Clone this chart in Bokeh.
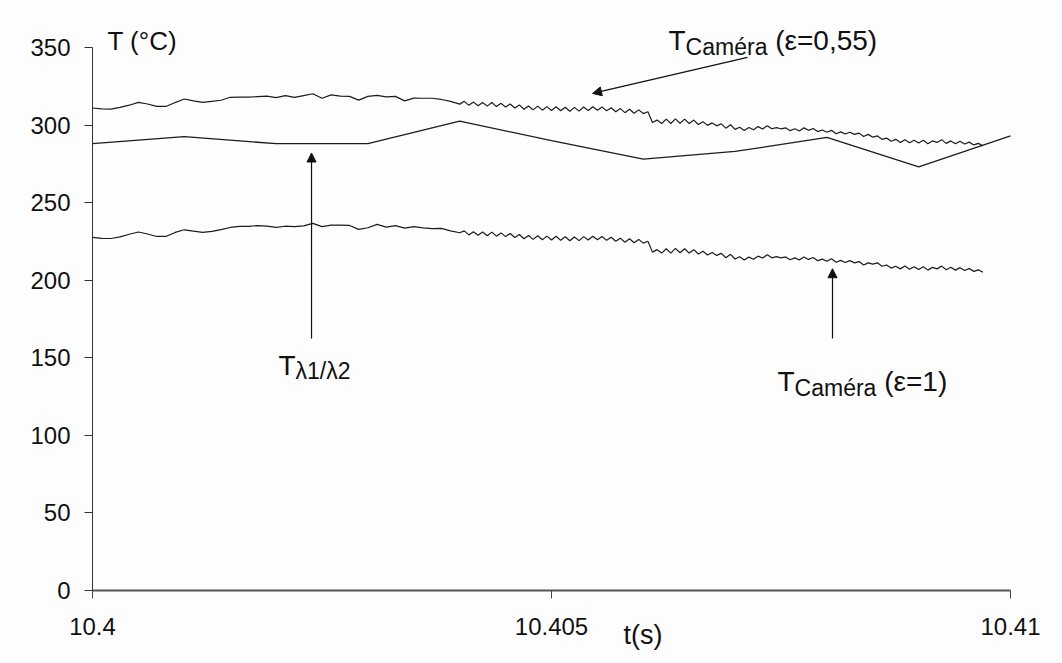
from bokeh.plotting import figure
from bokeh.models import (Range1d, FixedTicker, CustomJSTickFormatter, Label, Arrow,
                          NormalHead, LinearAxis)
from bokeh.embed import file_html
from bokeh.resources import INLINE

# ---------------- data ----------------
# time samples of the camera (s)
t_cam = [
    10.4000, 10.4001, 10.4002, 10.4003, 10.4004, 10.4005, 10.4006, 10.4007, 10.4008, 10.4009,
    10.4010, 10.4011, 10.4012, 10.4013, 10.4014, 10.4015, 10.4016, 10.4017, 10.4018, 10.4019,
    10.4020, 10.4021, 10.4022, 10.4023, 10.4024, 10.4025, 10.4026, 10.4027, 10.4028, 10.4029,
    10.4030, 10.4031, 10.4032, 10.4033, 10.4034, 10.4035, 10.4036, 10.4037, 10.4038, 10.4039,
    10.4040,
    10.40405, 10.4041, 10.40415, 10.4042, 10.40425, 10.4043, 10.40435, 10.4044, 10.40445, 10.4045,
    10.40455, 10.4046, 10.40465, 10.4047, 10.40475, 10.4048, 10.40485, 10.4049, 10.40495, 10.4050,
    10.40505, 10.4051, 10.40515, 10.4052, 10.40525, 10.4053, 10.40535, 10.4054, 10.40545, 10.4055,
    10.40555, 10.4056, 10.40565, 10.4057, 10.40575, 10.4058, 10.40585, 10.4059, 10.40595, 10.4060,
    10.40605, 10.4061, 10.40615, 10.4062, 10.40625, 10.4063, 10.40635, 10.4064, 10.40645, 10.4065,
    10.40655, 10.4066, 10.40665, 10.4067, 10.40675, 10.4068, 10.40685, 10.4069, 10.40695, 10.4070,
    10.40705, 10.4071, 10.40715, 10.4072, 10.40725, 10.4073, 10.40735, 10.4074, 10.40745, 10.4075,
    10.40755, 10.4076, 10.40765, 10.4077, 10.40775, 10.4078, 10.40785, 10.4079, 10.40795, 10.4080,
    10.40805, 10.4081, 10.40815, 10.4082, 10.40825, 10.4083, 10.40835, 10.4084, 10.40845, 10.4085,
    10.40855, 10.4086, 10.40865, 10.4087, 10.40875, 10.4088, 10.40885, 10.4089, 10.40895, 10.4090,
    10.40905, 10.4091, 10.40915, 10.4092, 10.40925, 10.4093, 10.40935, 10.4094, 10.40945, 10.4095,
    10.40955, 10.4096, 10.40965, 10.4097,
]

# T camera, emissivity 0.55 (°C)
T_cam_055 = [
    311.0, 310.4, 310.3, 311.4, 312.8, 314.6, 313.6, 312.0, 312.0, 314.5,
    316.8, 315.6, 314.6, 315.3, 316.0, 317.9, 318.0, 318.0, 318.3, 318.6,
    317.7, 319.0, 317.8, 319.0, 320.2, 317.3, 319.5, 318.7, 318.5, 316.1,
    318.5, 319.1, 318.2, 318.5, 315.6, 317.4, 317.3, 317.3, 316.5, 315.3,
    313.5,
    315.3, 312.7, 314.8, 312.5, 314.6, 312.2, 314.5, 311.9, 314.0, 311.6,
    313.6, 311.0, 313.0, 310.2, 312.3, 309.8, 312.2, 309.6, 311.9, 309.4,
    311.8, 309.2, 311.5, 308.9, 311.4, 309.0, 311.6, 309.4, 311.8, 309.6,
    311.7, 309.2, 311.2, 308.6, 310.6, 308.0, 310.2, 307.6, 309.8, 307.4,
    308.6, 301.6, 303.2, 301.0, 303.8, 301.0, 304.0, 301.2, 303.8, 301.0,
    303.2, 300.4, 302.2, 299.8, 301.4, 299.5, 300.8, 298.0, 300.2, 297.2,
    298.6, 296.5, 298.4, 297.0, 299.0, 297.5, 299.6, 297.6, 298.4, 297.6,
    298.2, 296.4, 297.6, 296.2, 298.2, 296.6, 297.8, 295.8, 296.8, 295.4,
    296.6, 294.4, 295.6, 294.2, 295.4, 294.0, 294.8, 292.6, 294.0, 292.2,
    293.0, 290.8, 291.6, 289.6, 290.8, 288.8, 290.6, 288.6, 290.2, 288.4,
    290.2, 288.0, 289.8, 288.8, 290.6, 288.2, 289.8, 288.0, 289.6, 287.8,
    289.0, 287.2, 288.2, 286.6,
]

# T camera, emissivity 1 (°C)
T_cam_1 = [
    227.6, 227.0, 226.9, 227.9, 229.6, 231.1, 229.8, 228.2, 228.2, 230.8,
    232.5, 231.6, 230.8, 231.5, 232.6, 234.0, 234.7, 234.7, 235.2, 234.9,
    234.1, 234.8, 234.5, 235.0, 236.6, 234.5, 235.5, 235.5, 235.3, 232.8,
    233.8, 236.0, 234.2, 235.2, 233.6, 234.5, 233.7, 233.2, 233.4, 231.8,
    230.6,
    231.8, 229.2, 231.3, 229.0, 231.1, 228.7, 231.0, 228.4, 230.5, 228.1,
    230.1, 227.5, 229.5, 226.7, 228.8, 226.3, 228.7, 226.1, 228.4, 225.9,
    228.3, 225.7, 228.0, 225.4, 227.9, 225.5, 228.1, 225.9, 228.3, 226.1,
    228.2, 225.7, 227.7, 225.1, 227.1, 224.5, 226.7, 224.1, 226.3, 223.9,
    225.1, 218.1, 219.7, 217.5, 220.3, 217.5, 220.5, 217.7, 220.3, 217.5,
    219.7, 216.9, 218.7, 216.3, 217.9, 216.0, 217.3, 214.5, 216.7, 213.7,
    215.1, 213.0, 214.9, 213.5, 215.5, 214.3, 216.4, 214.4, 215.2, 214.4,
    215.0, 213.2, 214.4, 213.0, 215.0, 213.4, 214.6, 212.6, 213.6, 212.2,
    213.8, 211.6, 212.8, 211.4, 212.6, 211.2, 212.0, 209.8, 211.2, 210.4,
    211.2, 209.0, 209.8, 207.8, 209.0, 207.3, 209.1, 207.1, 208.7, 206.9,
    208.7, 206.5, 208.3, 207.3, 209.1, 206.7, 208.3, 206.5, 208.1, 206.3,
    207.5, 205.7, 206.7, 205.1,
]

# bichromatic pyrometer T lambda1/lambda2 (°C)
t_pyro = [10.400, 10.401, 10.402, 10.403, 10.404, 10.405, 10.406, 10.407, 10.408, 10.409, 10.410]
T_pyro = [288.0, 292.5, 288.0, 288.0, 302.5, 290.0, 278.0, 283.0, 292.0, 273.0, 293.0]

x_ticks = [10.4, 10.405, 10.41]
y_ticks = [0, 50, 100, 150, 200, 250, 300, 350]

# ---------------- figure ----------------
FONT = "Liberation Sans"
INK = "#111111"
LINE = "#1c1c1c"
BG = "#fdfdfd"

# the frame covers the whole canvas; axes are pinned at t=10.4 and T=0
p = figure(width=1062, height=663, output_backend="svg", toolbar_location=None,
           x_axis_type=None, y_axis_type=None,
           x_range=Range1d(10.39899782, 10.41056645), y_range=Range1d(-47.05, 380.29),
           min_border=0, min_border_left=0, min_border_right=0,
           min_border_top=0, min_border_bottom=0)
p.outline_line_color = None
p.background_fill_color = BG
p.border_fill_color = BG

xax = LinearAxis(fixed_location=0, bounds=(10.4, 10.41), ticker=FixedTicker(ticks=x_ticks),
                 formatter=CustomJSTickFormatter(code="return String(Number(tick.toFixed(4)));"))
yax = LinearAxis(fixed_location=10.4, bounds=(0, 350), ticker=FixedTicker(ticks=y_ticks))
for ax in (xax, yax):
    ax.major_label_text_font = FONT
    ax.major_label_text_font_size = "24px"
    ax.major_label_text_color = INK
    ax.minor_tick_line_color = None
    ax.major_tick_in = 0
    ax.major_tick_out = 8
xax.axis_line_color = "#555555"
xax.axis_line_width = 2
xax.major_tick_line_color = "#444444"
xax.major_label_standoff = 19
yax.axis_line_color = "#333333"
yax.major_tick_line_color = "#333333"
yax.major_label_standoff = 14
p.add_layout(xax, "below")
p.add_layout(yax, "left")

p.line(t_cam, T_cam_055, line_color=LINE, line_width=1.2)
p.line(t_cam, T_cam_1, line_color=LINE, line_width=1.2)
p.line(t_pyro, T_pyro, line_color=LINE, line_width=1.3)

def lab(x, y, text, size, align="left"):
    p.add_layout(Label(x=x, y=y, text=text, text_font=FONT, text_font_size=size,
                       text_color=INK, text_align=align, text_baseline="alphabetic"))

MAIN = "28px"
SUB = "23px"

# axis titles
lab(10.400163, 354.2, "T (°C)", "26px")
lab(10.405784, -28.8, "t(s)", "27px")

# T camera eps=0.55
lab(10.406275, 354.5, "T", MAIN)
lab(10.406461, 350.6, "Caméra", SUB)
lab(10.407437, 354.5, "(ε=0,55)", MAIN)

# T lambda1/lambda2
lab(10.402026, 145.0, "T", MAIN)
lab(10.402212, 141.2, "λ1/λ2", SUB)

# T camera eps=1
lab(10.407462, 134.7, "T", MAIN)
lab(10.407648, 130.8, "Caméra", SUB)
lab(10.408624, 134.7, "(ε=1)", MAIN)

def arrow(x0, y0, x1, y1):
    p.add_layout(Arrow(end=NormalHead(size=9, fill_color=INK, line_color=INK),
                       x_start=x0, y_start=y0, x_end=x1, y_end=y1,
                       line_color=INK, line_width=1.2))

arrow(10.407135, 343.6, 10.405447, 320.4)
arrow(10.402386, 162.4, 10.402386, 282.0)
arrow(10.408061, 162.4, 10.408061, 207.4)

open("out.html", "w").write(file_html(p, INLINE))
